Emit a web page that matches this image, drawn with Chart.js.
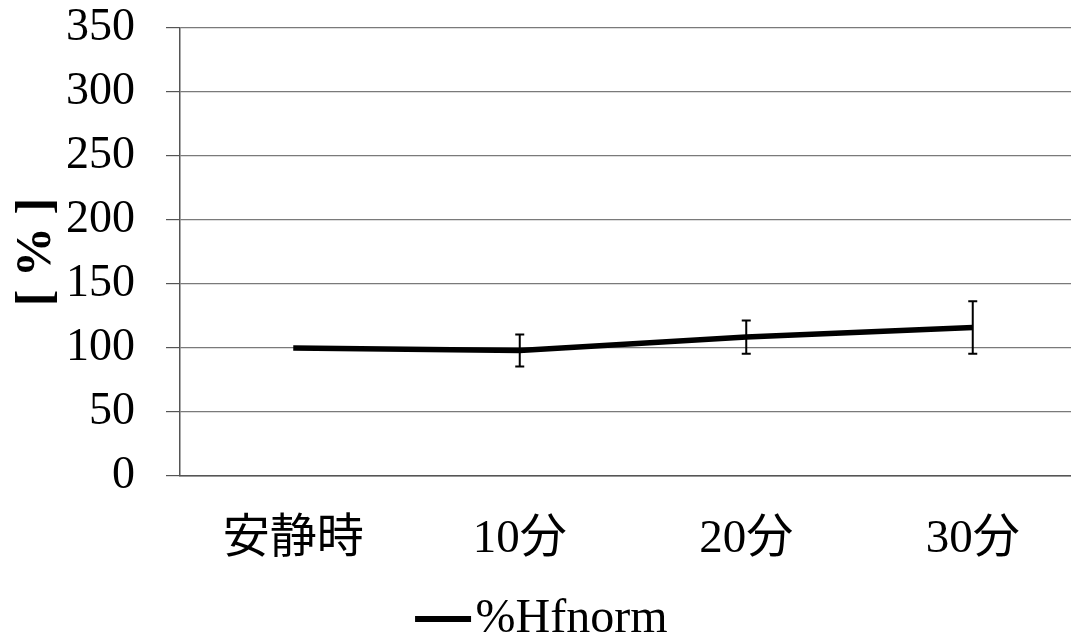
<!DOCTYPE html>
<html>
<head>
<meta charset="utf-8">
<script src="https://cdn.jsdelivr.net/npm/chart.js@4.4.0/dist/chart.umd.min.js"></script>
<style>
  html, body { margin: 0; padding: 0; background: #fff; }
  #wrap { width: 1071px; height: 641px; overflow: hidden; position: relative; }
  #box { width: 1086px; height: 641px; position: absolute; left: 0; top: 0; }
</style>
</head>
<body>
<div id="wrap"><div id="box"><canvas id="c"></canvas></div></div>
<script>
// Time points and %Hfnorm means with standard deviations
const categories = ['安静時', '10分', '20分', '30分'];
const hfnorm = [100, 98, 108.5, 116];
const hfnormSD = [0, 12.5, 13, 20.5];
const yTicks = [0, 50, 100, 150, 200, 250, 300, 350];

const serif = "'Liberation Serif', 'Times New Roman', 'Noto Sans CJK JP', serif";

// Legend swatch: a thick black stroke ending just before the label text
const swatch = document.createElement('canvas');
swatch.width = 80; swatch.height = 8;
(function () {
  const g = swatch.getContext('2d');
  g.fillStyle = '#000';
  g.fillRect(20, 1, 56, 6);
})();

// Draws vertical error bars with caps on top of the line
const errorBars = {
  id: 'errorBars',
  afterDatasetsDraw(chart) {
    const { ctx, scales } = chart;
    const y = scales.y, x = scales.x;
    ctx.save();
    ctx.strokeStyle = '#000';
    ctx.lineWidth = 2;
    hfnorm.forEach((v, i) => {
      const e = hfnormSD[i];
      if (!e) return;
      const px = x.getPixelForValue(i);
      const top = y.getPixelForValue(v + e);
      const bot = y.getPixelForValue(v - e);
      ctx.beginPath();
      ctx.moveTo(px, top); ctx.lineTo(px, bot);
      ctx.moveTo(px - 4.5, top); ctx.lineTo(px + 4.5, top);
      ctx.moveTo(px - 4.5, bot); ctx.lineTo(px + 4.5, bot);
      ctx.stroke();
    });
    ctx.restore();
  }
};

new Chart(document.getElementById('c'), {
  type: 'line',
  data: {
    labels: categories,
    datasets: [{
      label: '%Hfnorm',
      data: hfnorm,
      borderColor: '#000',
      backgroundColor: '#000',
      borderWidth: 5.5,
      pointRadius: 0,
      tension: 0,
      fill: false
    }]
  },
  options: {
    responsive: true,
    maintainAspectRatio: false,
    animation: false,
    layout: { padding: { top: 0, right: 0, bottom: -12, left: 0 } },
    plugins: {
      tooltip: { enabled: false },
      legend: {
        position: 'bottom',
        labels: {
          usePointStyle: true,
          pointStyle: swatch,
          pointStyleWidth: 33,
          color: '#000',
          font: { family: serif, size: 48, lineHeight: 1 },
          padding: 0,
          boxHeight: 40
        }
      }
    },
    scales: {
      x: {
        offset: true,
        grid: { display: false, drawTicks: false },
        border: { display: true, color: '#555', width: 1.5 },
        ticks: {
          color: '#000',
          font: { family: serif, size: 47 },
          padding: 35,
          maxRotation: 0,
          autoSkip: false
        },
        afterFit(s) { s.height = 119; }
      },
      y: {
        min: 0,
        max: 350,
        afterBuildTicks(s) { s.ticks = yTicks.map(v => ({ value: v })); },
        grid: { color: '#7a7a7a', lineWidth: 1.2, tickLength: 14, tickColor: '#555' },
        border: { display: true, color: '#555', width: 1.5 },
        ticks: {
          color: '#000',
          font: { family: serif, size: 46 },
          padding: 31,
          autoSkip: false
        },
        title: {
          display: true,
          text: '[ % ]',
          color: '#000',
          font: { family: serif, size: 50, weight: 'bold' },
          padding: { top: 7, bottom: 0 }
        },
        afterFit(s) {
          s.width = 180;
          s.paddingTop = 28;
          s.paddingBottom = 0;
        }
      }
    }
  },
  plugins: [errorBars]
});
</script>
</body>
</html>
